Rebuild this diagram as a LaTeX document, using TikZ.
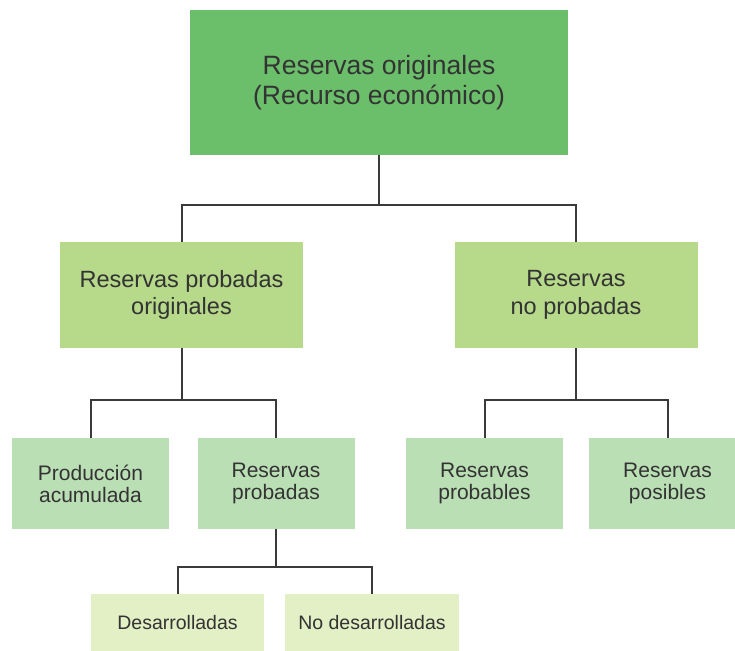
\documentclass[tikz,border=0pt]{standalone}
\usepackage{fontspec}
\setmainfont{Liberation Sans}
\definecolor{cTop}{HTML}{6BBF6B}
\definecolor{cTwo}{HTML}{B6D98A}
\definecolor{cThree}{HTML}{BBDFB5}
\definecolor{cFour}{HTML}{E3EFC4}
\definecolor{cText}{HTML}{333333}
\definecolor{cLine}{HTML}{3A3A3A}
\tikzset{
  box/.style={rectangle, inner sep=0pt, align=center, text=cText},
  topbox/.style={box, fill=cTop, minimum width=378pt, minimum height=145pt, font=\fontsize{26.5}{30}\selectfont},
  twobox/.style={box, fill=cTwo, minimum width=243pt, minimum height=106pt, font=\fontsize{23.5}{27.5}\selectfont},
  threebox/.style={box, fill=cThree, minimum width=157pt, minimum height=91pt, font=\fontsize{21}{22}\selectfont},
  fourbox/.style={box, fill=cFour, minimum height=58pt, font=\fontsize{19.5}{20}\selectfont},
  link/.style={draw=cLine, line width=2pt}
}
\begin{document}
\begin{tikzpicture}[x=1pt,y=-1pt]
\useasboundingbox (0,0) rectangle (735,650);
\fill[white] (0,0) rectangle (735,650);
\begin{scope}
\clip (0,0) rectangle (735,650);
\node[topbox] (top) at (379,82.5) {Reservas originales\\(Recurso económico)};
\node[twobox] (L) at (181.5,295) {Reservas probadas\\originales};
\node[twobox] (R) at (576,295) {Reservas\\no probadas};
\node[threebox] (prod) at (90.5,483.5) {Producción\\acumulada};
\node[threebox] (resp) at (276,483.5) {Reservas\\probadas};
\node[threebox] (prob) at (484.5,483.5) {Reservas\\probables};
\node[threebox] (pos) at (667.5,483.5) {Reservas\\posibles};
\node[fourbox, minimum width=173pt] (des) at (177.5,623) {Desarrolladas};
\node[fourbox, minimum width=174pt] (nodes) at (372,623) {No desarrolladas};
\coordinate (j1) at (379,205);
\coordinate (j2) at (181.5,400);
\coordinate (j3) at (576,400);
\coordinate (j4) at (276,567);
\draw[link] (top.south) -- (j1);
\draw[link] (L.north) |- (j1) -| (R.north);
\draw[link] (L.south) -- (j2);
\draw[link] (prod.north) |- (j2) -| (resp.north);
\draw[link] (R.south) -- (j3);
\draw[link] (prob.north) |- (j3) -| (pos.north);
\draw[link] (resp.south) -- (j4);
\draw[link] (des.north) |- (j4) -| (nodes.north);
\end{scope}
\end{tikzpicture}
\end{document}
